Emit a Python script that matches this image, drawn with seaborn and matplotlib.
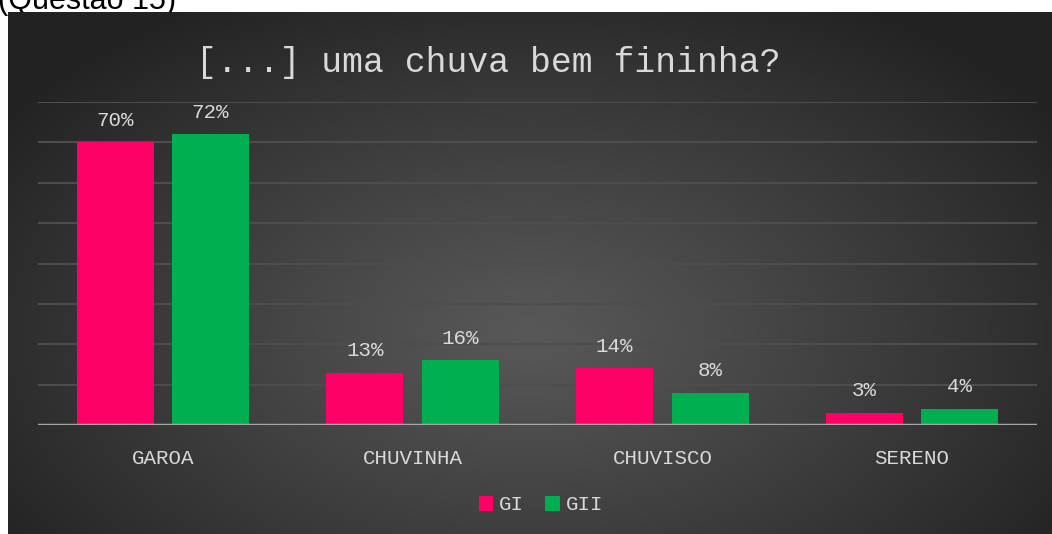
import numpy as np
import pandas as pd
import seaborn as sns
import matplotlib.pyplot as plt
from matplotlib.patches import Patch

# dados
categorias = ["GAROA", "CHUVINHA", "CHUVISCO", "SERENO"]
grupos = ["GI", "GII"]
gi = [70, 13, 14, 3]
gii = [72, 16, 8, 4]

cores = ["#FF0066", "#00B050"]
texto_cor = "#d9d9d9"

df = pd.DataFrame({
    "categoria": categorias * 2,
    "pct": gi + gii,
    "grupo": [grupos[0]] * 4 + [grupos[1]] * 4,
})

sns.set_style("white")
plt.rcParams["font.family"] = ["Liberation Mono", "DejaVu Sans Mono"]

W, H = 1052, 534
fig = plt.figure(figsize=(W / 100, H / 100), dpi=100, facecolor="white")

# texto cortado no topo (como na imagem original)
fig.text(-2 / W, 1 - 9 / H, "(Questão 15)", fontsize=22, family="Liberation Sans",
         color="black", va="baseline", ha="left", zorder=-1)

# fundo com gradiente radial
bg = fig.add_axes([8 / W, 0, (W - 8) / W, (H - 12) / H])
bg.set_zorder(-0.5)
yy, xx = np.mgrid[0:1:300j, 0:1:600j]
r = np.sqrt(((xx - 0.5) / 0.62) ** 2 + ((yy - 0.62) / 0.75) ** 2)
r = np.clip(r, 0, 1)
c0, c1 = 0x58 / 255, 0x22 / 255
img = c0 + (c1 - c0) * r ** 1.1
bg.imshow(np.dstack([img, img, img]), aspect="auto", origin="upper", extent=[0, 1, 0, 1])
bg.set_axis_off()

# eixo principal
ax = fig.add_axes([38 / W, (H - 425) / H, 999 / W, 323 / H])
ax.patch.set_alpha(0)
sns.barplot(data=df, x="categoria", y="pct", hue="grupo", palette=cores,
            width=0.764, gap=0.194, saturation=1, linewidth=0,
            legend=False, ax=ax, zorder=3)
ax.set_xlim(-0.5, 3.5)
ax.set_ylim(0, 80)
ax.set_yticks(np.arange(10, 81, 10))
ax.yaxis.grid(True, color="#4d4d4d", lw=1.5)
ax.set_axisbelow(True)
ax.axhline(0, color="#a6a6a6", lw=2.5, zorder=4)
for s in ax.spines.values():
    s.set_visible(False)
ax.tick_params(axis="y", left=False, labelleft=False)
ax.tick_params(axis="x", bottom=False, colors=texto_cor, labelsize=15, pad=14)
ax.set_xlabel("")
ax.set_ylabel("")

for cont in ax.containers:
    ax.bar_label(cont, fmt="%d%%", padding=9, color=texto_cor, fontsize=15)

# titulo
fig.text(488 / W, 1 - 62 / H, "[...] uma chuva bem fininha?", color=texto_cor,
         fontsize=25, ha="center", va="center")

# legenda
handles = [Patch(facecolor=c, edgecolor="none") for c in cores]
fig.legend(handles, grupos, loc="center", bbox_to_anchor=(541 / W, 1 - 505 / H),
           ncol=2, frameon=False, labelcolor=texto_cor, fontsize=15,
           handlelength=0.7, handleheight=0.7, handletextpad=0.3, columnspacing=1.0)

fig.savefig("out.png", dpi=100, facecolor="white")
